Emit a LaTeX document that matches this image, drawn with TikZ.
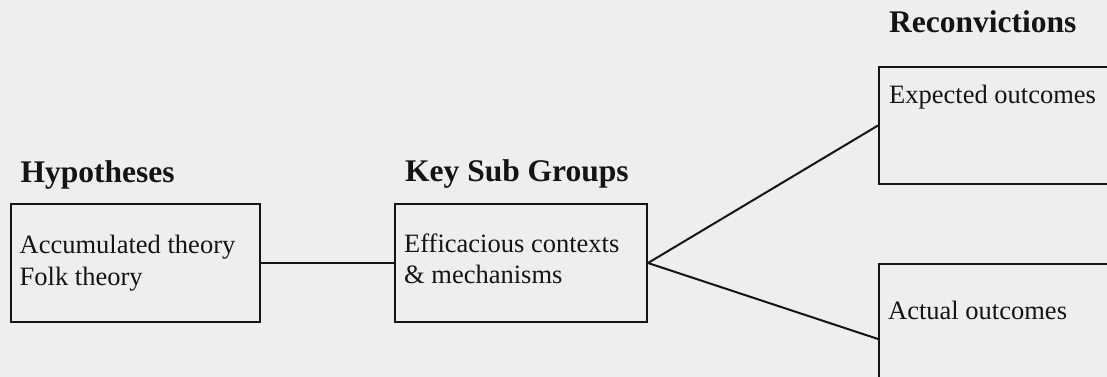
\documentclass[tikz,border=0pt]{standalone}
\usepackage{fontspec}
\setmainfont{Liberation Serif}
\definecolor{bgc}{RGB}{238,238,238}
\definecolor{ink}{RGB}{20,20,20}
\begin{document}
\begin{tikzpicture}[x=1pt,y=-1pt,
  box/.style={draw=ink,line width=2pt,rectangle,inner sep=0pt,anchor=north west},
  title/.style={font=\fontsize{31.5}{36}\selectfont\bfseries,text=ink,anchor=base west,inner sep=0pt},
  body/.style={font=\fontsize{26.5}{31}\selectfont,text=ink,anchor=base west,inner sep=0pt},
  link/.style={draw=ink,line width=2pt}]
\fill[bgc] (0,0) rectangle (1107,377);
\useasboundingbox (0,0) rectangle (1107,377);
\clip (0,0) rectangle (1107,377);
% boxes
\node[box,minimum width=249pt,minimum height=118pt] (hyp) at (10,203) {};
\node[box,minimum width=252pt,minimum height=118pt] (ksg) at (394,203) {};
\node[box,minimum width=260pt,minimum height=117pt] (exp) at (878,66) {};
\node[box,minimum width=260pt,minimum height=140pt] (act) at (878,263) {};
% titles
\node[title] (thyp) at (20.5,182) {Hypotheses};
\node[title] (tksg) at (405,181) {Key Sub Groups};
\node[title] (trec) at (889,33) {Reconvictions};
% body texts
\node[body] (h1) at (19.5,253) {Accumulated theory};
\node[body] (h2) at (19.5,285) {Folk theory};
\node[body] (k1) at (404,252) {Efficacious contexts};
\node[body] (k2) at (404,283) {\& mechanisms};
\node[body] (e1) at (889,103) {Expected outcomes};
\node[body] (a1) at (888,319) {Actual outcomes};
% connectors
\coordinate (actin) at ([yshift=-76pt]act.north west);
\draw[link] (hyp.east) -- (ksg.west);
\draw[link] (ksg.east) -- (exp.west);
\draw[link] (ksg.east) -- (actin);
\end{tikzpicture}
\end{document}
